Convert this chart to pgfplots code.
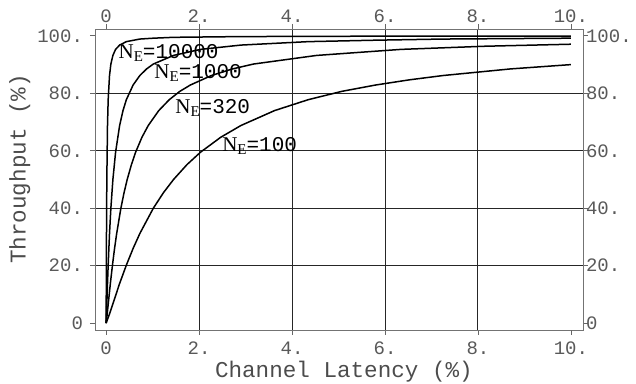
\documentclass[border=0pt]{standalone}
\usepackage{fontspec}
\setmainfont{Liberation Serif}
\setmonofont{Liberation Mono}
\usepackage{pgfplots}
\pgfplotsset{compat=1.18}
\begin{document}
\begin{tikzpicture}
\pgfplotsset{
 common/.style={scale only axis, width=244pt, height=150.5pt,
  xmin=-0.24, xmax=10.26, ymin=-2.4, ymax=102.4,
  axis line style={black!55, line width=0.4pt},
  tick style={black!60, line width=0.4pt},
  tick align=outside, major tick length=2.5pt,
  ticklabel style={font=\fontsize{9.5}{10}\selectfont\ttfamily, text=black!65},
  /pgf/number format/assume math mode=true}
}
\begin{axis}[common, name=ax,
 xtick pos=bottom, ytick pos=left,
 xtick={2,4,6,8}, xticklabels={2.,4.,6.,8.},
 extra x ticks={0,10}, extra x tick labels={0,10.}, extra x tick style={grid=none},
 ytick={20,40,60,80}, yticklabels={20.,40.,60.,80.},
 extra y ticks={0,100}, extra y tick labels={0,100.}, extra y tick style={grid=none},
 grid=major, major grid style={black!85, line width=0.5pt},
 xlabel={Channel Latency (\%)}, ylabel={Throughput (\%)},
 label style={font=\fontsize{11.3}{12}\selectfont\ttfamily, text=black!70},
 xlabel style={at={(axis description cs:0.51,-0.14)}, anchor=center},
 ylabel style={at={(axis description cs:-0.154,0.535)}, anchor=center},
 clip=false]
\addplot[black, line width=0.75pt] coordinates {(0,0)(0.0725,3.2)(0.145,6.75)(0.29,13.8)(0.435,20.2)(0.58,26.0)(0.725,31.2)(1.015,40.0)(1.2325,45.4)(1.45,50.0)(1.74,55.2)(2.03,59.5)(2.465,64.7)(2.9,68.8)(3.625,74.0)(4.35,77.8)(5.075,80.7)(5.8,82.9)(6.525,84.7)(7.25,86.2)(8.7,88.5)(10,90.0)};
\addplot[black, line width=0.75pt] coordinates {(0,0)(0.0227,3.2)(0.0453,6.75)(0.0906,13.8)(0.136,20.2)(0.181,26.0)(0.2265,31.2)(0.317,40.0)(0.385,45.4)(0.453,50.0)(0.544,55.2)(0.634,59.5)(0.770,64.7)(0.906,68.8)(1.1325,74.0)(1.359,77.8)(1.586,80.7)(1.812,82.9)(2.265,86.2)(2.718,88.5)(3.171,90.2)(4.53,93.2)(6.342,95.3)(8.154,96.4)(10,97.1)};
\addplot[black, line width=0.75pt] coordinates {(0,0)(0.00725,3.2)(0.0145,6.75)(0.029,13.8)(0.0435,20.2)(0.0725,31.2)(0.1015,40.0)(0.145,50.0)(0.203,59.5)(0.29,68.8)(0.3625,74.0)(0.435,77.8)(0.58,82.9)(0.725,86.2)(0.87,88.5)(1.015,90.2)(1.45,93.2)(2.03,95.3)(2.9,96.8)(4.35,98.0)(5.8,98.5)(7.25,98.9)(10,99.2)};
\addplot[black, line width=0.75pt] coordinates {(0,0)(0.00145,6.75)(0.00435,20.2)(0.00725,31.2)(0.0145,50.0)(0.029,68.8)(0.0435,77.8)(0.0725,86.2)(0.1015,90.2)(0.145,93.2)(0.203,95.3)(0.29,96.8)(0.435,98.0)(0.725,98.9)(1.015,99.2)(1.45,99.5)(2.9,99.76)(5.8,99.9)(10,99.94)};
\node[anchor=west, inner sep=0pt] at (axis cs:0.26,94) {\fontsize{10.5}{11}\selectfont N\raisebox{-0.35ex}{\fontsize{7.5}{8}\selectfont E}\ttfamily=10000};
\node[anchor=west, inner sep=0pt] at (axis cs:1.03,87) {\fontsize{10.5}{11}\selectfont N\raisebox{-0.35ex}{\fontsize{7.5}{8}\selectfont E}\ttfamily=1000};
\node[anchor=west, inner sep=0pt] at (axis cs:1.48,75) {\fontsize{10.5}{11}\selectfont N\raisebox{-0.35ex}{\fontsize{7.5}{8}\selectfont E}\ttfamily=320};
\node[anchor=west, inner sep=0pt] at (axis cs:2.49,61.7) {\fontsize{10.5}{11}\selectfont N\raisebox{-0.35ex}{\fontsize{7.5}{8}\selectfont E}\ttfamily=100};
\end{axis}
\begin{axis}[common, axis x line*=top, axis y line*=right,
 xtick={0,2,4,6,8,10}, xticklabels={0,2.,4.,6.,8.,10.},
 ytick={0,20,40,60,80,100}, yticklabels={0,20.,40.,60.,80.,100.},
 xticklabel style={yshift=-3pt}, yticklabel style={xshift=-4.5pt}]
\end{axis}
\pgfresetboundingbox
\path[use as bounding box] ([shift={(-47.5pt,-27pt)}]ax.south west) rectangle ([shift={(26.5pt,14.5pt)}]ax.north east);
\end{tikzpicture}
\end{document}
